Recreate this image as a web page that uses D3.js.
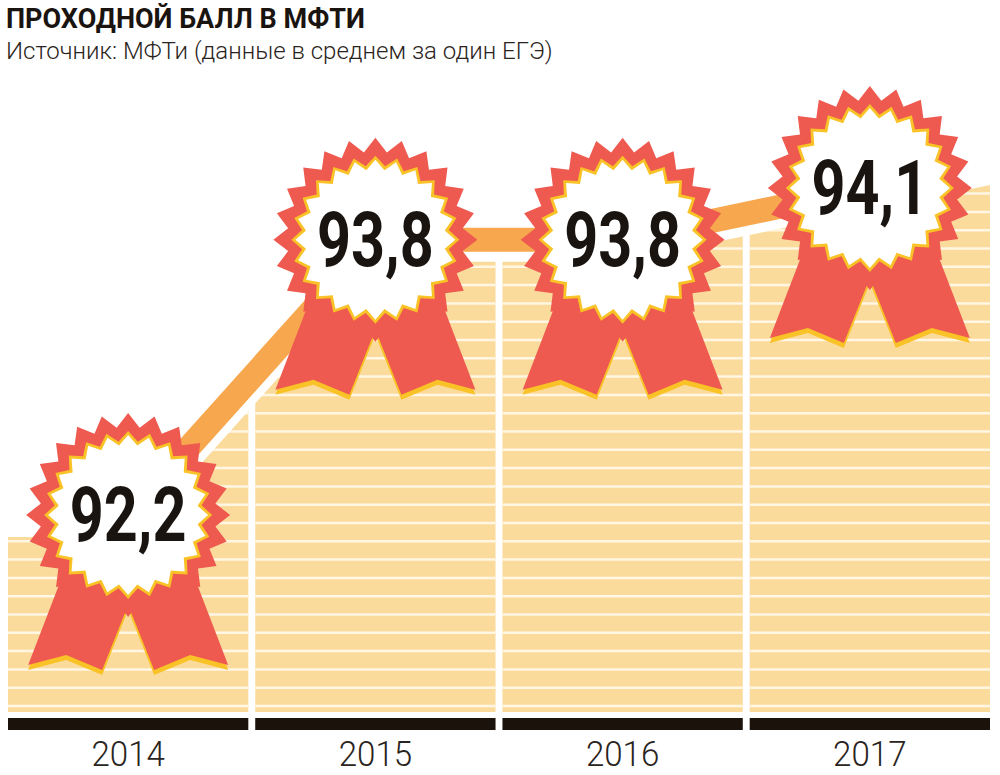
<!DOCTYPE html>
<html><head><meta charset="utf-8">
<script src="https://cdn.jsdelivr.net/npm/d3@7"></script>
<style>body{margin:0;background:#fff}</style>
</head><body>
<svg id="c" width="1000" height="775"></svg>
<script>
const years = ['2014', '2015', '2016', '2017']
const scores = [92.2, 93.8, 93.8, 94.1]
const labels = ['92,2', '93,8', '93,8', '94,1']

const svg = d3.select('#c')
const font = 'Roboto, "DejaVu Sans", sans-serif'

svg.append('text').attr('x', 6).attr('y', 28).text('ПРОХОДНОЙ БАЛЛ В МФТИ')
  .style('font-family', font).style('font-weight', 700).style('font-size', '27px').attr('fill', '#1a1410')
svg.append('text').attr('x', 6).attr('y', 59).text('Источник: МФТи (данные в среднем за один ЕГЭ)')
  .style('font-family', font).style('font-weight', 300).style('font-size', '24px').attr('fill', '#2a2420')

const x = d3.scaleBand().domain(years).range([8, 990]).paddingInner(0.028)
const y = d3.scaleLinear().domain([92.2, 94.1]).range([515, 188])
const bottom = 712
const cx = d => x(d) + x.bandwidth() / 2

// line points, extended to edges
const pts = years.map((d, i) => [cx(d), y(scores[i])])
const n = pts.length
const slope = (pts[n - 1][1] - pts[n - 2][1]) / (pts[n - 1][0] - pts[n - 2][0])
const ext = [[0, pts[0][1]], ...pts, [1000, pts[n - 1][1] + slope * (1000 - pts[n - 1][0])]]
const off = 22

const defs = svg.append('defs')
defs.append('clipPath').attr('id', 'bars').selectAll('rect').data(years).join('rect')
  .attr('x', d => x(d)).attr('width', x.bandwidth()).attr('y', 0).attr('height', bottom)
const area = d3.area().x(d => d[0]).y0(bottom).y1(d => d[1] + off)
defs.append('clipPath').attr('id', 'area').append('path').datum(ext).attr('d', area)

const g = svg.append('g').attr('clip-path', 'url(#bars)')
  .append('g').attr('clip-path', 'url(#area)')
g.append('rect').attr('width', 1000).attr('height', bottom).attr('fill', '#fbdb9c')
g.selectAll('line.stripe').data(d3.range(bottom - 6, 150, -18.3)).join('line')
  .attr('x1', 0).attr('x2', 1000).attr('y1', d => d).attr('y2', d => d)
  .attr('stroke', '#fff6e4').attr('stroke-width', 2.5)

// black baseline
svg.selectAll('rect.base').data(years).join('rect')
  .attr('x', d => x(d)).attr('width', x.bandwidth()).attr('y', 718).attr('height', 12).attr('fill', '#1c120c')
svg.selectAll('text.year').data(years).join('text')
  .attr('x', cx).attr('y', 766).attr('text-anchor', 'middle').text(d => d)
  .style('font-family', font).style('font-weight', 300).style('font-size', '36px').attr('fill', '#2a2420')
  .attr('transform', d => `translate(${cx(d)},0) scale(0.92,1) translate(${-cx(d)},0)`)

const line = d3.line()
svg.append('path').datum(pts).attr('d', line).attr('fill', 'none')
  .attr('stroke', '#fff').attr('stroke-width', 40)
svg.append('path').datum(pts).attr('d', line).attr('fill', 'none')
  .attr('stroke', '#f7a84e').attr('stroke-width', 24)

function star(ro, ri, k) {
  const p = []
  for (let i = 0; i < k * 2; i++) {
    const a = Math.PI * i / k - Math.PI / 2
    const r = i % 2 ? ri : ro
    p.push([r * Math.cos(a), r * Math.sin(a)])
  }
  return 'M' + p.join('L') + 'Z'
}
const tailL = [[-50, 20], [0, 90], [-26, 155], [-62, 140], [-100, 150]]
const tailR = tailL.map(p => [-p[0], p[1]])
const poly = p => 'M' + p.join('L') + 'Z'

const ros = svg.selectAll('g.ros').data(years).join('g')
  .attr('transform', (d, i) => `translate(${cx(d)},${y(scores[i])})`)
ros.each(function () {
  const r = d3.select(this)
  ;[tailL, tailR].forEach(t => {
    r.append('path').attr('d', poly(t)).attr('fill', '#f9c227').attr('transform', 'translate(0,5)')
    r.append('path').attr('d', poly(t)).attr('fill', '#ee5a4f')
  })
  r.append('path').attr('d', star(102, 88, 24)).attr('fill', '#ee5a4f')
  r.append('path').attr('d', star(84, 74, 24)).attr('fill', '#f9c227')
  r.append('path').attr('d', star(80, 70, 24)).attr('fill', '#fff')
})
ros.append('text').attr('y', 26).attr('text-anchor', 'middle')
  .attr('transform', 'scale(0.78,1)')
  .text((d, i) => labels[i])
  .style('font-family', font).style('font-weight', 700).style('font-size', '76px').attr('fill', '#1a1410')
</script>
</body></html>
